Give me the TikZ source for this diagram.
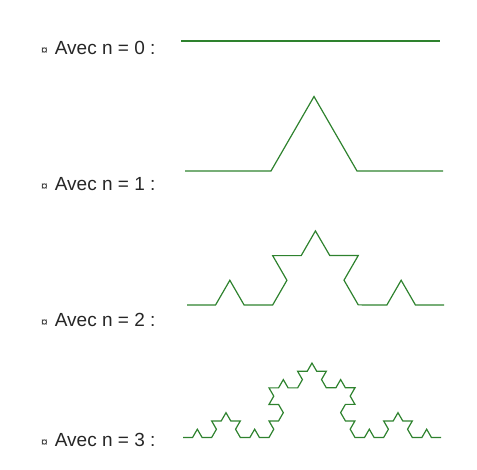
\documentclass[tikz,border=0pt]{standalone}
\usepackage{fontspec}
\setmainfont{Liberation Sans}
\usetikzlibrary{decorations.fractals}
\definecolor{kochgreen}{RGB}{46,130,46}
\newcommand\curr{{\fontsize{12}{12}\selectfont ¤}\hspace{7pt}}
\tikzset{
  avec/.style={anchor=west, inner sep=0pt, font=\fontsize{19}{22}\selectfont, text=black!85},
  koch/.style={draw=kochgreen, line width=1.2pt, line join=miter, decoration={Koch snowflake}},
}
\begin{document}
\begin{tikzpicture}[x=1pt, y=1pt]
\useasboundingbox (0,0) rectangle (477,469);
% Labels
\node[avec] (lbl0) at (41,421) {\curr Avec n = 0 :};
\node[avec] (lbl1) at (41,285) {\curr Avec n = 1 :};
\node[avec] (lbl2) at (41,149) {\curr Avec n = 2 :};
\node[avec] (lbl3) at (41,29) {\curr Avec n = 3 :};

% End points of the curves
\coordinate (s0) at (181,428);  \coordinate (e0) at (440,428);
\coordinate (s1) at (185,298);  \coordinate (e1) at (443,298);
\coordinate (s2) at (187,164);  \coordinate (e2) at (444,164);
\coordinate (s3) at (183,31.5); \coordinate (e3) at (441,31.5);

% Koch curves
\draw[koch] (s0) -- (e0);
\draw[koch] decorate{(s1) -- (e1)};
\draw[koch] decorate{decorate{(s2) -- (e2)}};
\draw[koch] decorate{decorate{decorate{(s3) -- (e3)}}};
\end{tikzpicture}
\end{document}
